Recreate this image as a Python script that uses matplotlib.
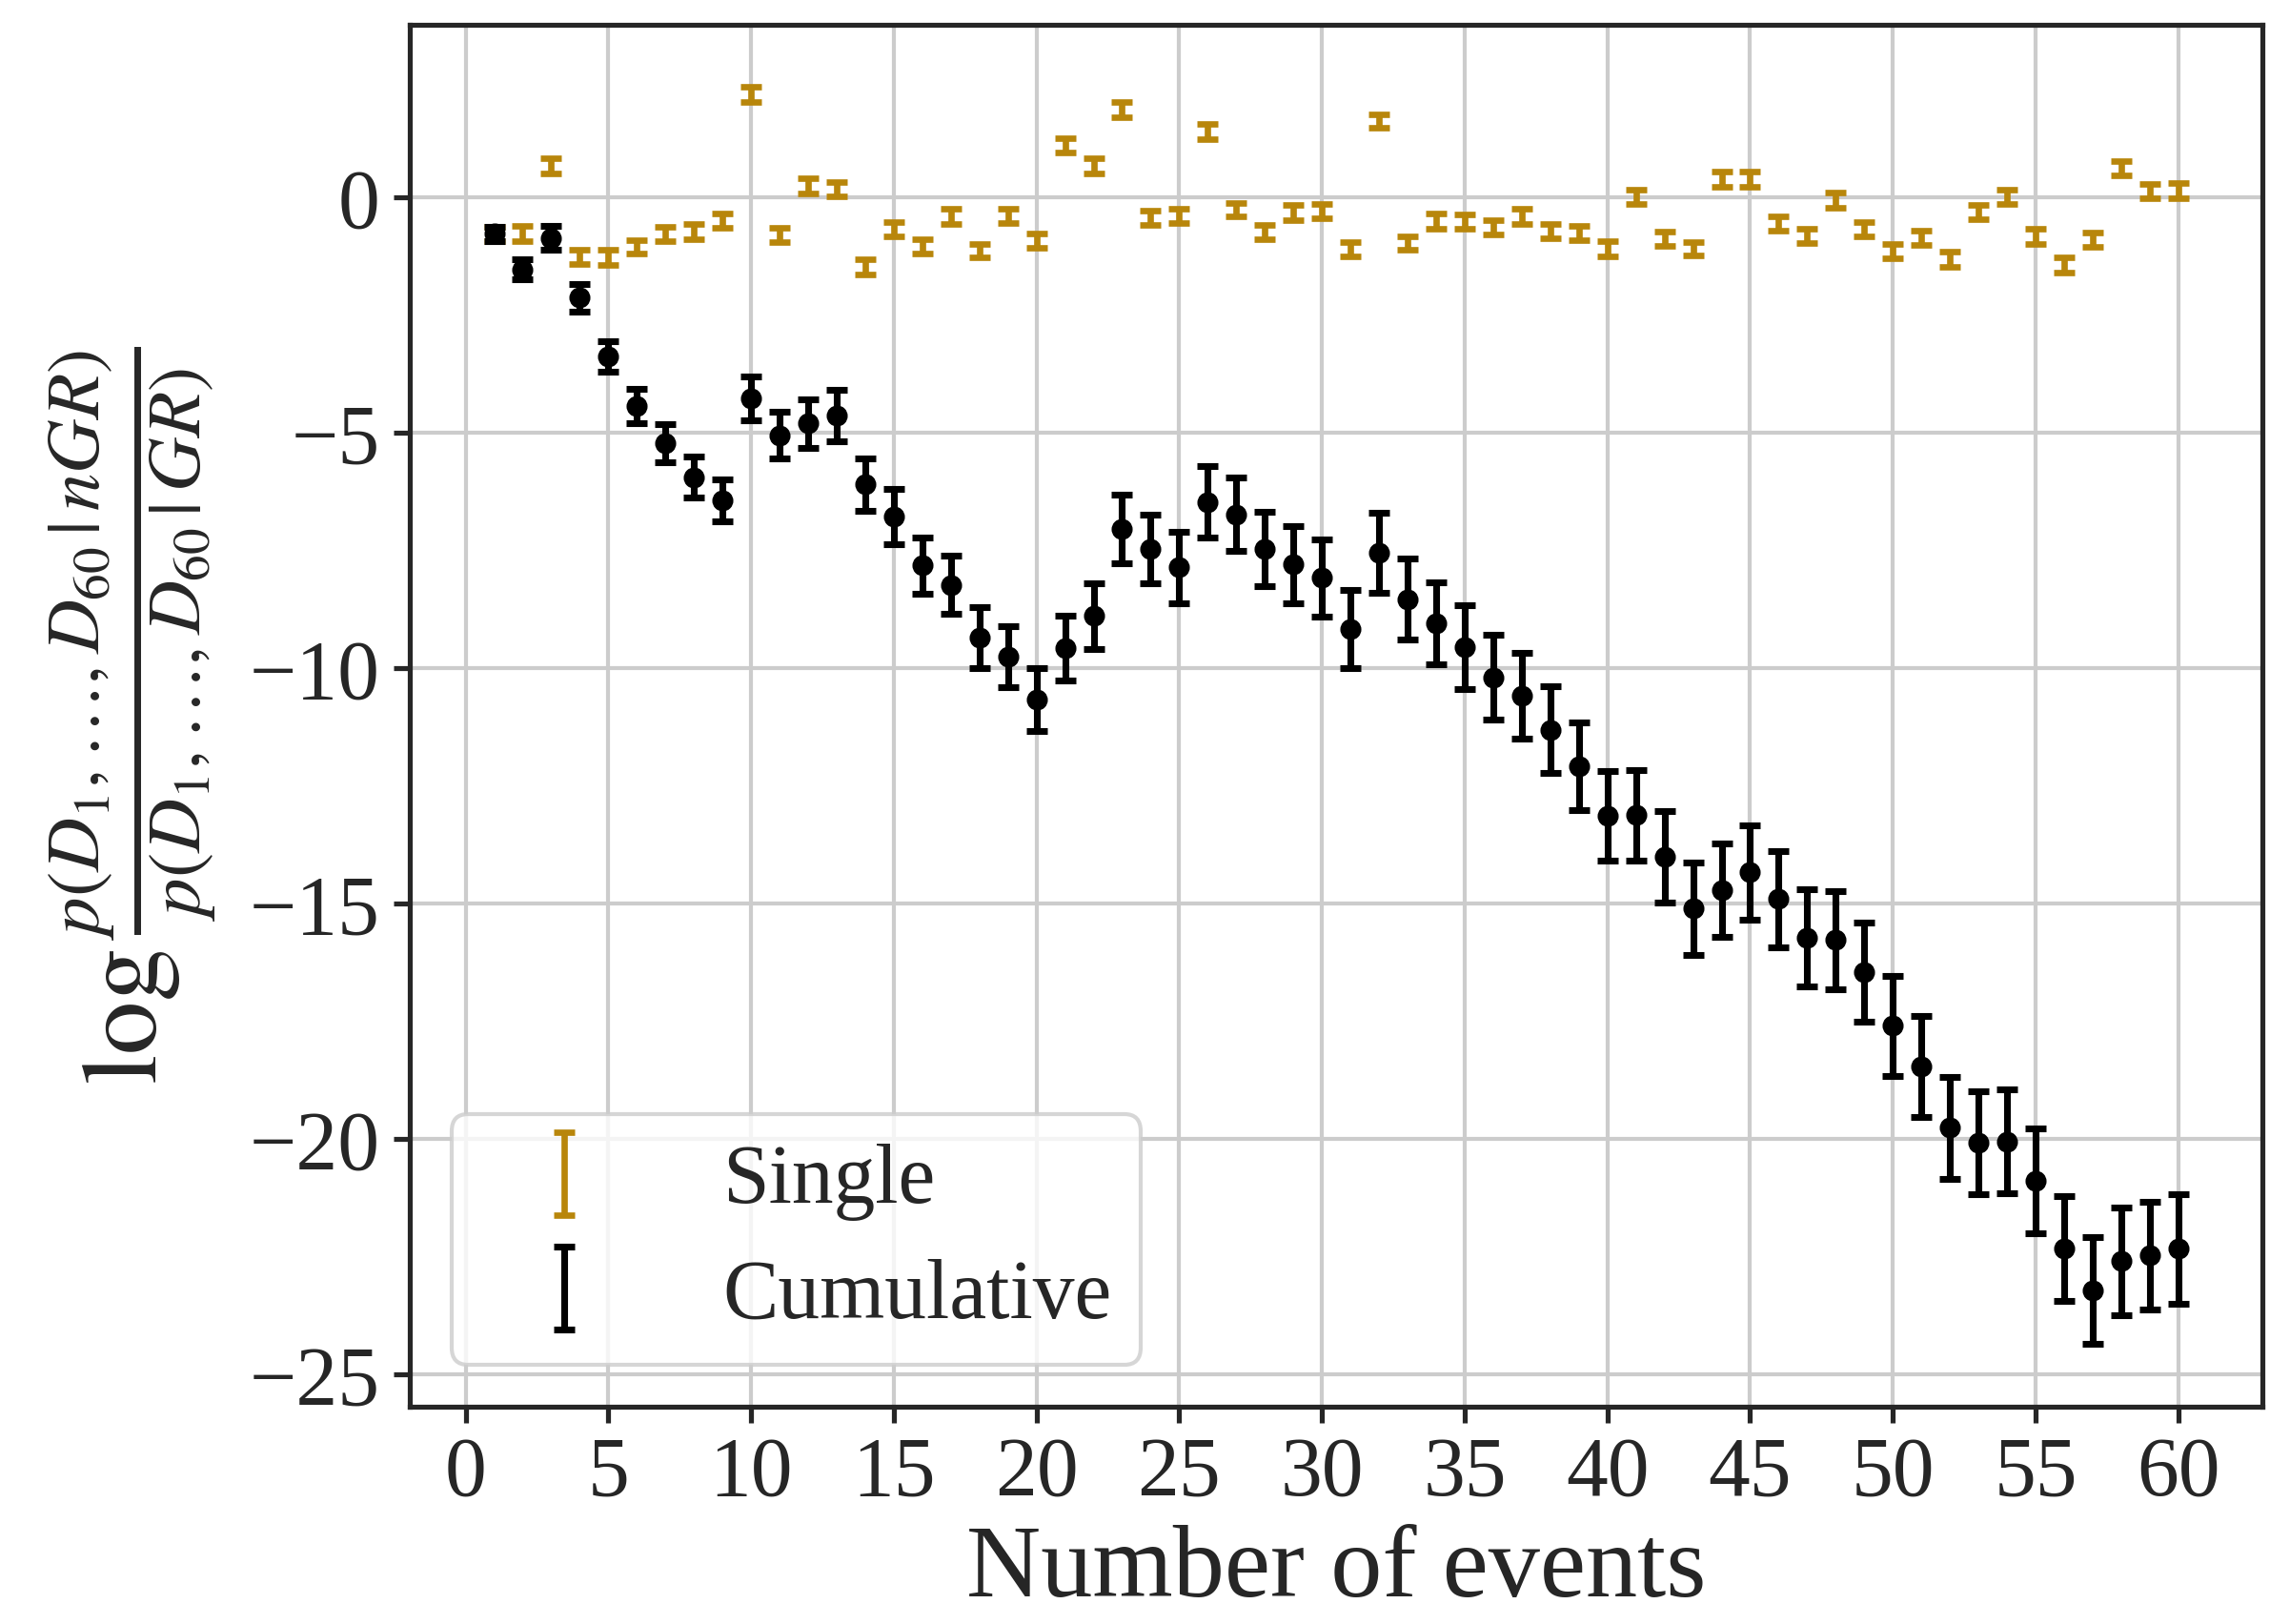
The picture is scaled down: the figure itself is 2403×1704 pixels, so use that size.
import numpy as np
import matplotlib
matplotlib.use("Agg")
import matplotlib.pyplot as plt

# Log Bayes factor per event and accumulated over the catalogue
n_events = list(range(1, 61))

single = [
    -0.77, -0.76, 0.67, -1.27, -1.27, -1.05, -0.78, -0.72, -0.50, 2.18,
    -0.79, 0.25, 0.18, -1.48, -0.67, -1.04, -0.41, -1.13, -0.39, -0.92,
    1.11, 0.67, 1.86, -0.43, -0.39, 1.40, -0.26, -0.74, -0.33, -0.29,
    -1.10, 1.62, -0.97, -0.51, -0.52, -0.63, -0.40, -0.72, -0.76, -1.09,
    0.02, -0.88, -1.09, 0.38, 0.38, -0.56, -0.82, -0.06, -0.67, -1.14,
    -0.86, -1.31, -0.32, 0.02, -0.83, -1.44, -0.90, 0.62, 0.14, 0.14,
]
single_err = [
    0.15, 0.16, 0.16, 0.15, 0.16, 0.15, 0.15, 0.16, 0.15, 0.16,
    0.15, 0.16, 0.15, 0.16, 0.15, 0.15, 0.16, 0.15, 0.15, 0.16,
    0.15, 0.16, 0.16, 0.15, 0.15, 0.16, 0.15, 0.15, 0.16, 0.15,
    0.16, 0.15, 0.15, 0.16, 0.15, 0.15, 0.16, 0.15, 0.15, 0.16,
    0.15, 0.16, 0.15, 0.16, 0.16, 0.15, 0.15, 0.16, 0.15, 0.16,
    0.15, 0.16, 0.15, 0.15, 0.16, 0.16, 0.15, 0.16, 0.15, 0.16,
]

cumulative = [
    -0.77, -1.53, -0.86, -2.13, -3.38, -4.43, -5.22, -5.94, -6.43, -4.27,
    -5.05, -4.80, -4.63, -6.10, -6.78, -7.82, -8.23, -9.35, -9.75, -10.67,
    -9.57, -8.89, -7.04, -7.46, -7.86, -6.47, -6.73, -7.46, -7.80, -8.08,
    -9.16, -7.55, -8.53, -9.04, -9.56, -10.19, -10.59, -11.31, -12.08, -13.14,
    -13.12, -14.00, -15.10, -14.71, -14.33, -14.90, -15.72, -15.77, -16.45, -17.59,
    -18.46, -19.76, -20.08, -20.05, -20.88, -22.32, -23.21, -22.59, -22.47, -22.33,
]
cumulative_err = [
    0.15, 0.21, 0.26, 0.30, 0.33, 0.36, 0.40, 0.43, 0.45, 0.47,
    0.50, 0.52, 0.54, 0.56, 0.58, 0.60, 0.62, 0.64, 0.65, 0.67,
    0.69, 0.70, 0.72, 0.73, 0.75, 0.76, 0.78, 0.79, 0.81, 0.82,
    0.83, 0.85, 0.86, 0.87, 0.89, 0.90, 0.91, 0.92, 0.93, 0.95,
    0.96, 0.97, 0.98, 0.99, 1.00, 1.02, 1.03, 1.04, 1.05, 1.06,
    1.07, 1.08, 1.09, 1.10, 1.11, 1.12, 1.13, 1.14, 1.15, 1.16,
]

plt.rcParams.update({
    "font.family": "serif",
    "font.serif": ["Liberation Serif", "DejaVu Serif"],
    "mathtext.fontset": "stix",
    "axes.edgecolor": "#262626",
    "axes.linewidth": 1.25,
    "axes.grid": True,
    "grid.color": "#cccccc",
    "grid.linewidth": 1.0,
    "xtick.color": "#262626",
    "ytick.color": "#262626",
    "xtick.major.size": 4,
    "ytick.major.size": 4,
    "xtick.major.width": 1.25,
    "ytick.major.width": 1.25,
    "text.color": "#262626",
    "axes.labelcolor": "#262626",
})

fig = plt.figure(figsize=(8.01, 5.68), dpi=300)
ax = fig.add_axes([0.179, 0.134, 0.809, 0.851])
ax.set_axisbelow(True)

gold = "#b8860b"
ax.errorbar(n_events, single, yerr=single_err, fmt="none", ecolor=gold,
            elinewidth=1.6, capsize=2.6, capthick=1.6, label="Single")
ax.errorbar(n_events, cumulative, yerr=cumulative_err, fmt="none", ecolor="black",
            elinewidth=1.7, capsize=2.6, capthick=1.7, label="Cumulative")
ax.plot(n_events, cumulative, "o", color="black", ms=4.3)

ax.set_xticks(np.arange(0, 61, 5))
ax.set_yticks([0, -5, -10, -15, -20, -25])
ax.tick_params(labelsize=21)

ax.set_xlabel("Number of events", fontsize=26, labelpad=3)
ax.set_ylabel(r"$\log\frac{p(D_1,\ldots,D_{60}\,|\,nGR)}{p(D_1,\ldots,D_{60}\,|\,GR)}$",
              fontsize=27, labelpad=8)

leg = ax.legend(loc="lower left", fontsize=21, frameon=True, fancybox=True,
                framealpha=0.8, borderpad=0.35, labelspacing=0.45,
                handletextpad=0.9)
leg.get_frame().set_edgecolor("#cccccc")
leg.get_frame().set_linewidth(1.0)

fig.savefig("out.png", dpi=300)
